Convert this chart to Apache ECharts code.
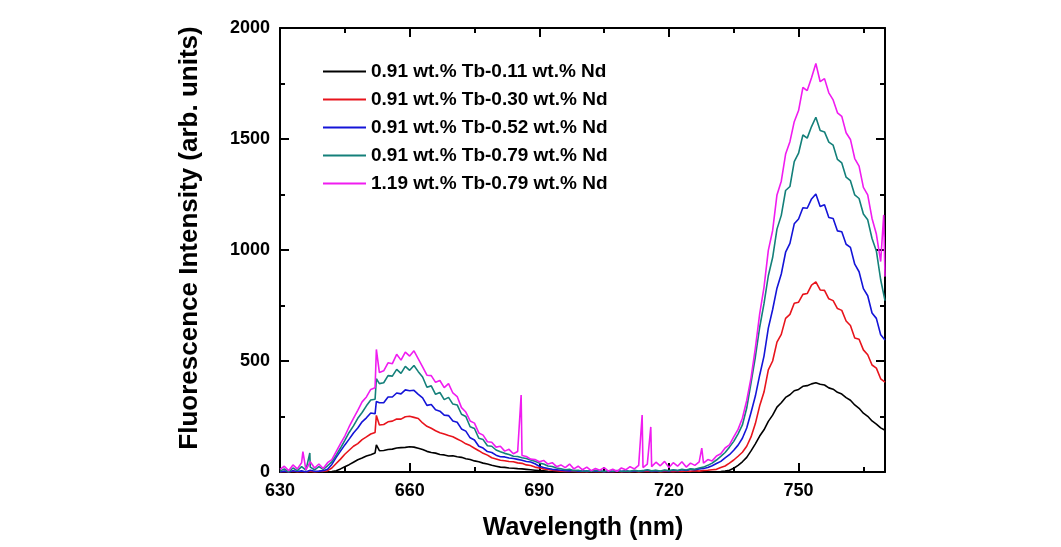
<!DOCTYPE html>
<html>
<head>
<meta charset="utf-8">
<script src="https://cdn.jsdelivr.net/npm/echarts@6/dist/echarts.min.js"></script>
<style>html,body{margin:0;padding:0;background:#fff}#c{width:1061px;height:547px}</style>
</head>
<body>
<div id="c"></div>
<script>
// Wavelength grid 630..770 nm, 1 nm step
const wavelengths = [];
for (let w = 630; w <= 770; w++) wavelengths.push(w);

const seriesNames = [
  '0.91 wt.% Tb-0.11 wt.% Nd',
  '0.91 wt.% Tb-0.30 wt.% Nd',
  '0.91 wt.% Tb-0.52 wt.% Nd',
  '0.91 wt.% Tb-0.79 wt.% Nd',
  '1.19 wt.% Tb-0.79 wt.% Nd'
];

const nd011 = [
  0,0,0,0,0,0,0,0,0,0,
  0,0,2,6,14,24,33,44,55,63,
  72,78,86,96,97,101,103,108,110,111,
  114,112,107,101,93,88,85,79,77,72,
  73,69,66,60,56,50,46,40,36,30,
  26,22,21,18,17,15,14,12,10,8,
  6,5,3,2,1,0,0,0,0,0,
  0,0,0,0,0,0,0,0,0,0,
  0,0,0,0,0,0,0,0,0,0,
  0,0,0,0,0,0,0,0,0,0,
  0,1,2,4,8,17,30,46,66,95,
  127,162,190,228,256,292,312,336,348,366,
  372,386,389,397,402,395,392,379,373,359,
  351,335,323,302,287,265,251,230,216,199,
  188
];
const nd030 = [
  0,2,0,3,0,2,0,4,0,2,
  3,6,18,38,58,80,98,116,128,146,
  158,171,178,212,214,226,229,239,238,249,
  251,246,241,221,206,197,186,177,171,164,
  159,149,139,127,119,107,96,84,76,64,
  59,53,51,47,46,41,39,32,29,22,
  18,14,11,8,6,4,3,2,3,1,
  2,0,3,1,2,0,2,1,3,0,
  2,1,3,0,2,4,1,3,0,2,
  3,1,4,2,5,3,6,4,7,8,
  10,12,20,27,40,54,71,89,116,158,
  218,298,360,460,500,585,620,692,710,760,
  765,800,804,842,856,820,818,780,772,736,
  728,680,660,604,598,550,528,482,468,420,
  405
];
const nd052 = [
  0,4,0,6,2,5,0,8,3,4,
  6,12,34,66,94,122,148,176,198,226,
  244,266,262,312,312,338,338,356,352,370,
  366,368,350,334,300,304,280,274,256,254,
  230,224,194,184,154,144,116,108,92,88,
  76,69,68,63,61,57,53,47,45,37,
  26,20,16,12,10,8,6,5,7,4,
  5,2,6,3,5,1,4,2,6,3,
  4,2,6,3,5,8,4,6,3,7,
  5,8,6,10,7,12,10,14,16,20,
  28,38,48,64,78,98,121,152,198,268,
  342,436,522,648,732,828,892,990,1030,1118,
  1140,1190,1188,1230,1252,1196,1204,1146,1142,1086,
  1082,1026,1012,936,902,826,794,716,692,618,
  595
];
const nd079 = [
  4,14,0,18,6,24,8,22,10,24,
  12,28,46,76,108,142,178,208,242,268,
  298,324,328,398,402,434,432,462,444,476,
  458,480,452,428,382,388,350,358,326,336,
  306,302,260,250,204,196,152,146,118,116,
  99,91,84,79,71,70,64,61,54,48,
  40,36,27,25,18,15,10,12,6,8,
  3,6,2,8,4,2,6,3,7,2,
  5,3,8,4,6,10,5,8,4,9,
  6,10,7,12,9,14,12,18,22,30,
  40,54,70,88,112,138,172,212,288,402,
  518,652,758,884,966,1094,1156,1268,1286,1398,
  1436,1518,1504,1556,1598,1538,1532,1486,1472,1408,
  1392,1328,1312,1248,1232,1162,1136,1052,996,866,
  772
];
const tb119nd079 = [
  12,26,6,32,14,42,10,46,18,36,
  16,42,56,92,128,162,204,242,278,316,
  338,372,380,448,456,492,488,530,504,540,
  522,546,510,474,436,434,404,412,380,398,
  356,340,290,270,230,220,176,166,136,134,
  112,116,94,102,82,92,74,70,58,56,
  46,52,36,42,24,32,20,36,14,26,
  10,22,6,16,8,20,4,12,3,18,
  10,24,14,30,20,36,24,44,28,48,
  20,42,26,46,22,40,30,46,40,56,
  50,72,82,108,122,158,192,242,322,424,
  558,712,832,998,1088,1248,1310,1432,1488,1578,
  1628,1732,1718,1776,1840,1758,1772,1708,1676,1618,
  1602,1528,1498,1412,1378,1282,1248,1142,1072,948,
  880
];

// Narrow spikes: [wavelength, intensity]
const spikes011 = [[652.3, 122]];
const spikes030 = [[652.3, 255]];
const spikes052 = [[652.3, 318]];
const spikes079 = [[636.9, 86], [652.3, 420]];
const spikes119 = [[635.3, 92], [652.3, 552], [685.8, 347], [713.8, 257], [715.8, 203], [727.6, 108], [769.7, 1158]];

const colors = ['#000000', '#e8141c', '#1414d8', '#14807a', '#f01cf0'];

function build(vals, sp) {
  const pts = wavelengths.map((w, i) => [w, vals[i]]);
  sp.forEach(s => pts.push([s[0], s[1]]));
  pts.sort((a, b) => a[0] - b[0]);
  return pts;
}

const allVals = [nd011, nd030, nd052, nd079, tb119nd079];
const allSpikes = [spikes011, spikes030, spikes052, spikes079, spikes119];

const FONT = '"Liberation Sans", Arial, sans-serif';

function xAx(pos, interval, len, showLabel, showLine) {
  return {
    type: 'value', position: pos, min: 630, max: 770, interval: interval,
    axisLine: { show: showLine, onZero: false, lineStyle: { color: '#000', width: 2 } },
    axisTick: { show: true, inside: true, length: len, lineStyle: { color: '#000', width: 2 } },
    axisLabel: { show: showLabel, showMaxLabel: false, color: '#000', fontFamily: FONT, fontWeight: 'bold', fontSize: 18, margin: 10 },
    splitLine: { show: false }
  };
}
function yAx(pos, showLabel) {
  return {
    type: 'value', position: pos, min: 0, max: 2000, interval: 500,
    axisLine: { show: true, onZero: false, lineStyle: { color: '#000', width: 2 } },
    axisTick: { show: true, inside: true, length: 9, lineStyle: { color: '#000', width: 2 } },
    minorTick: { show: true, splitNumber: 2, length: 5, lineStyle: { color: '#000', width: 2 } },
    axisLabel: { show: showLabel, formatter: v => String(v), color: '#000', fontFamily: FONT, fontWeight: 'bold', fontSize: 18, margin: 10 },
    splitLine: { show: false }
  };
}

const chart = echarts.init(document.getElementById('c'), null, { renderer: 'canvas' });
chart.setOption({
  animation: false,
  backgroundColor: '#fff',
  grid: { left: 280, right: 176, top: 28, bottom: 75 },
  xAxis: [
    xAx('bottom', 30, 9, true, true),
    xAx('bottom', 15, 5, false, false),
    xAx('top', 30, 9, false, true),
    xAx('top', 15, 5, false, false)
  ],
  yAxis: [yAx('left', true), yAx('right', false)],
  legend: {
    orient: 'vertical', left: 318, top: 57,
    icon: 'rect', itemWidth: 43, itemHeight: 2, itemGap: 9,
    textStyle: { color: '#000', fontFamily: FONT, fontWeight: 'bold', fontSize: 19, lineHeight: 18 },
    data: seriesNames
  },
  graphic: [
    { type: 'text', x: 583, y: 528, style: { text: 'Wavelength (nm)', fill: '#000', font: 'bold 25px ' + FONT, textAlign: 'center', textVerticalAlign: 'middle' } },
    { type: 'text', x: 190, y: 238, rotation: Math.PI / 2, style: { text: 'Fluorescence Intensity (arb. units)', fill: '#000', font: 'bold 26px ' + FONT, textAlign: 'center', textVerticalAlign: 'middle' } }
  ],
  series: allVals.map((v, i) => ({
    name: seriesNames[i], type: 'line', xAxisIndex: 0, yAxisIndex: 0,
    data: build(v, allSpikes[i]), symbol: 'none', showSymbol: false,
    lineStyle: { color: colors[i], width: 1.6 }, itemStyle: { color: colors[i] },
    z: 2 + i
  }))
});
</script>
</body>
</html>
